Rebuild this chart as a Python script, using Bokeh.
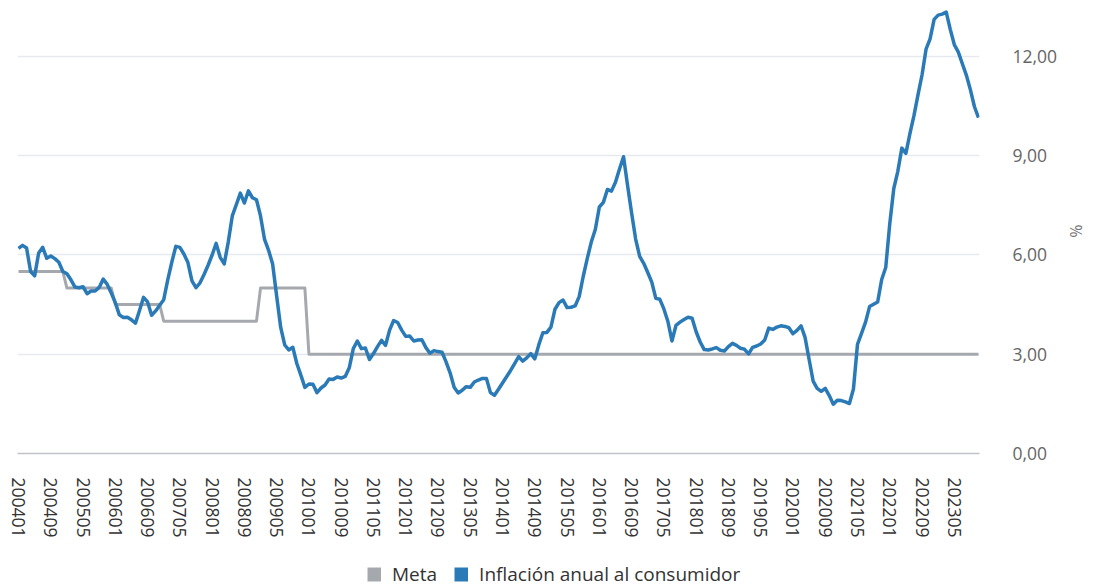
from bokeh.plotting import figure
from bokeh.layouts import column
from bokeh.models import Range1d, FixedTicker, Legend, LegendItem
from bokeh.embed import file_html
from bokeh.resources import INLINE

# ---- data ----
years = list(range(2004, 2024))
periods = [f"{y}{m:02d}" for y in years for m in range(1, 13)][:239]

meta_by_year = [5.5, 5.0, 4.5, 4.0, 4.0, 5.0, 3.0, 3.0, 3.0, 3.0,
                3.0, 3.0, 3.0, 3.0, 3.0, 3.0, 3.0, 3.0, 3.0, 3.0]

infl_2004 = [6.20, 6.29, 6.21, 5.50, 5.37, 6.06, 6.23, 5.90, 5.97, 5.89, 5.78, 5.50]
infl_2005 = [5.43, 5.25, 5.03, 5.01, 5.04, 4.83, 4.91, 4.91, 5.02, 5.27, 5.11, 4.85]
infl_2006 = [4.56, 4.19, 4.11, 4.12, 4.04, 3.94, 4.32, 4.72, 4.58, 4.18, 4.31, 4.48]
infl_2007 = [4.65, 5.25, 5.78, 6.26, 6.23, 6.03, 5.77, 5.22, 5.01, 5.16, 5.41, 5.69]
infl_2008 = [6.00, 6.35, 5.93, 5.73, 6.39, 7.18, 7.52, 7.87, 7.57, 7.94, 7.73, 7.67]
infl_2009 = [7.18, 6.47, 6.14, 5.73, 4.76, 3.81, 3.28, 3.13, 3.21, 2.72, 2.37, 2.00]
infl_2010 = [2.10, 2.09, 1.84, 1.98, 2.07, 2.25, 2.24, 2.31, 2.28, 2.33, 2.59, 3.17]
infl_2011 = [3.40, 3.17, 3.19, 2.84, 3.02, 3.23, 3.42, 3.27, 3.73, 4.02, 3.96, 3.73]
infl_2012 = [3.54, 3.55, 3.40, 3.43, 3.44, 3.20, 3.03, 3.11, 3.08, 3.06, 2.77, 2.44]
infl_2013 = [2.00, 1.83, 1.91, 2.02, 2.00, 2.16, 2.22, 2.27, 2.27, 1.84, 1.76, 1.94]
infl_2014 = [2.13, 2.32, 2.51, 2.72, 2.93, 2.79, 2.89, 3.02, 2.86, 3.29, 3.65, 3.66]
infl_2015 = [3.82, 4.36, 4.56, 4.64, 4.41, 4.42, 4.46, 4.74, 5.35, 5.89, 6.39, 6.77]
infl_2016 = [7.45, 7.59, 7.98, 7.93, 8.20, 8.60, 8.97, 8.10, 7.27, 6.48, 5.96, 5.75]
infl_2017 = [5.47, 5.18, 4.69, 4.66, 4.37, 3.99, 3.40, 3.87, 3.97, 4.05, 4.12, 4.09]
infl_2018 = [3.68, 3.37, 3.14, 3.13, 3.16, 3.20, 3.12, 3.10, 3.23, 3.33, 3.27, 3.18]
infl_2019 = [3.15, 3.01, 3.21, 3.25, 3.31, 3.43, 3.79, 3.75, 3.82, 3.86, 3.84, 3.80]
infl_2020 = [3.62, 3.72, 3.86, 3.51, 2.85, 2.19, 1.97, 1.88, 1.97, 1.75, 1.49, 1.61]
infl_2021 = [1.60, 1.56, 1.51, 1.95, 3.30, 3.63, 3.97, 4.44, 4.51, 4.58, 5.26, 5.62]
infl_2022 = [6.94, 8.01, 8.53, 9.23, 9.07, 9.67, 10.21, 10.84, 11.44, 12.22, 12.53, 13.12]
infl_2023 = [13.25, 13.28, 13.34, 12.82, 12.36, 12.13, 11.78, 11.43, 10.99, 10.48, 10.15]

inflacion = (infl_2004 + infl_2005 + infl_2006 + infl_2007 + infl_2008 + infl_2009 +
             infl_2010 + infl_2011 + infl_2012 + infl_2013 + infl_2014 + infl_2015 +
             infl_2016 + infl_2017 + infl_2018 + infl_2019 + infl_2020 + infl_2021 +
             infl_2022 + infl_2023)
meta = [meta_by_year[int(p[:4]) - 2004] for p in periods]

y_ticks = [0, 3, 6, 9, 12]
y_tick_labels = ["0,00", "3,00", "6,00", "9,00", "12,00"]
x_tick_step = 8

series_names = ["Meta", "Inflación anual al consumidor"]
series_colors = ["#a5a9ae", "#2a7ab8"]

# ---- main figure ----
xs = list(range(len(periods)))
FONT = "Open Sans"

p = figure(width=1090, height=560, output_backend="svg", toolbar_location=None,
           x_range=Range1d(-0.25, len(periods) - 1 + 0.25), y_range=Range1d(0, 13.45),
           y_axis_location="right",
           min_border_left=17, min_border_right=97, min_border_top=8, min_border_bottom=107)
p.outline_line_color = None
p.background_fill_color = "white"

p.line(xs, meta, line_color=series_colors[0], line_width=3, line_join="round")
p.line(xs, inflacion, line_color=series_colors[1], line_width=3.5, line_join="round")

# x axis
xticks = xs[::x_tick_step]
p.xaxis.ticker = FixedTicker(ticks=xticks)
p.xaxis.major_label_overrides = {t: periods[t] for t in xticks}
p.xaxis.major_label_orientation = "vertical"
p.xaxis.major_label_standoff = 18
p.xaxis.major_label_text_font = FONT
p.xaxis.major_label_text_font_size = "17.5px"
p.xaxis.major_label_text_color = "#333333"
p.xaxis.major_tick_line_color = None
p.xaxis.minor_tick_line_color = None
p.xaxis.axis_line_color = "#bfc2c6"
p.xaxis.axis_line_width = 1.5
p.xgrid.visible = False

# y axis (right)
p.yaxis.ticker = FixedTicker(ticks=y_ticks)
p.yaxis.major_label_overrides = dict(zip(y_ticks, y_tick_labels))
p.yaxis.major_label_standoff = 27
p.yaxis.major_label_text_font = FONT
p.yaxis.major_label_text_font_size = "17.5px"
p.yaxis.major_label_text_color = "#666666"
p.yaxis.major_tick_line_color = None
p.yaxis.minor_tick_line_color = None
p.yaxis.axis_line_color = None
p.yaxis.axis_label = "%"
p.yaxis.axis_label_text_font = FONT
p.yaxis.axis_label_text_font_style = "normal"
p.yaxis.axis_label_text_font_size = "16px"
p.yaxis.axis_label_text_color = "#777777"
p.yaxis.axis_label_standoff = 5
p.ygrid.grid_line_color = "#e6e9ee"
p.ygrid.grid_line_width = 1.5

# ---- legend strip (a second, axis-less figure below the chart) ----
pl = figure(width=1090, height=27, output_backend="svg", toolbar_location=None,
            x_range=Range1d(0, 1), y_range=Range1d(0, 1),
            x_axis_location=None, y_axis_location=None,
            min_border_left=0, min_border_right=0, min_border_top=0, min_border_bottom=0)
pl.outline_line_color = None
pl.grid.visible = False
# hidden copies of the series: only their (thick, square) legend swatches show
sw_meta = pl.line(xs, meta, line_color=series_colors[0], line_width=14, line_cap="butt", visible=False)
sw_inf = pl.line(xs, inflacion, line_color=series_colors[1], line_width=14, line_cap="butt", visible=False)

legend = Legend(items=[LegendItem(label=series_names[0], renderers=[sw_meta]),
                       LegendItem(label=series_names[1], renderers=[sw_inf])],
                orientation="horizontal", location=(350, 0),
                glyph_width=14, glyph_height=20, label_standoff=11, spacing=17,
                padding=0, margin=0, border_line_color=None, background_fill_alpha=0,
                inactive_fill_alpha=0,
                label_text_font=FONT, label_text_font_size="19px", label_text_color="#333333",
                label_height=20)
pl.add_layout(legend)

layout = column(p, pl, spacing=0)
open("out.html", "w").write(file_html(layout, INLINE))
